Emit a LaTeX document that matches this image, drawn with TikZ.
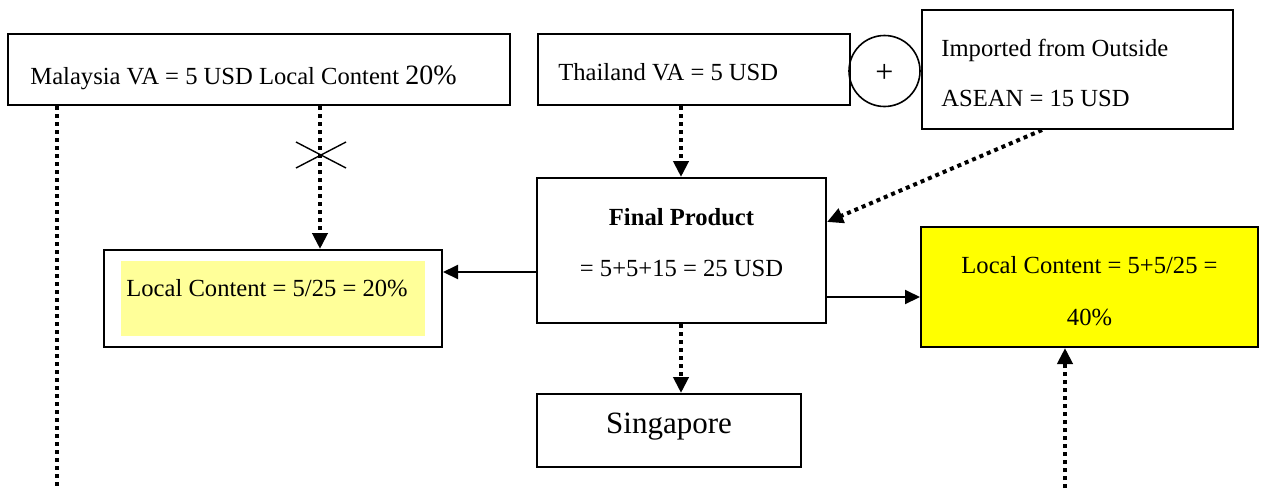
\documentclass[tikz,border=0pt]{standalone}
\usepackage{fontspec}
\setmainfont{Liberation Serif}
\usetikzlibrary{arrows.meta,calc}
\definecolor{paleyel}{HTML}{FFFF99}
\definecolor{brightyel}{HTML}{FFFF00}
\tikzset{
  boxnode/.style={draw, line width=1pt, rectangle, inner sep=0pt},
  txt/.style={inner sep=0pt, font=\fontsize{12.3}{14}\selectfont},
  dotline/.style={line width=2pt, dash pattern=on 2pt off 2pt},
  dotarrow/.style={dotline, -{Triangle[length=8pt,width=7.5pt]}},
  solidarrow/.style={line width=1pt, -{Triangle[length=7.5pt,width=7pt]}},
}
\begin{document}
\begin{tikzpicture}[x=0.5pt, y=-0.5pt]
\useasboundingbox (0,0) rectangle (1264,488);
% boxes
\node[boxnode, minimum width=251pt, minimum height=35.5pt] (mal) at (259,69.5) {};
\node[txt, anchor=west] (maltxt) at (30,78) {Malaysia VA = 5 USD Local Content {\fontsize{14}{16}\selectfont 20\%}};
\node[boxnode, minimum width=156pt, minimum height=35.5pt] (tha) at (694,69.5) {};
\node[txt, anchor=west] (thatxt) at (558,72) {Thailand VA = 5 USD};
\node[draw, line width=0.8pt, circle, minimum size=35.5pt, inner sep=0pt] (plus) at (884.5,71) {};
\node[txt, font=\fontsize{16}{18}\selectfont] (plustxt) at (884.5,73) {+};
\node[boxnode, minimum width=155.5pt, minimum height=59.5pt] (imp) at (1077.5,69.5) {};
\node[txt, anchor=west] (imptxt1) at (941,50) {Imported from Outside};
\node[txt, anchor=west] (imptxt2) at (941,98) {ASEAN = 15 USD};
\node[boxnode, minimum width=144.5pt, minimum height=72.5pt] (fin) at (681.5,250.5) {};
\node[txt, font=\fontsize{12.3}{14}\selectfont\bfseries] (fintxt1) at (681.5,217) {Final Product};
\node[txt] (fintxt2) at (681.5,268) {= 5+5+15 = 25 USD};
\node[boxnode, minimum width=169pt, minimum height=48.5pt] (lcl) at (273,298.5) {};
\node[fill=paleyel, minimum width=152pt, minimum height=37.5pt, inner sep=0pt] (lclhl) at (273,298.5) {};
\node[txt, anchor=west] (lcltxt) at (126,288) {Local Content = 5/25 = 20\%};
\node[boxnode, fill=brightyel, minimum width=168.5pt, minimum height=60pt] (lcr) at (1089.5,287) {};
\node[txt] (lcrtxt1) at (1089.5,265) {Local Content = 5+5/25 =};
\node[txt] (lcrtxt2) at (1089.5,317) {40\%};
\node[boxnode, minimum width=132pt, minimum height=36.5pt] (sing) at (669,430.5) {};
\node[txt, font=\fontsize{15.5}{18}\selectfont] (singtxt) at (669,427) {Singapore};
% helper coordinates
\coordinate (xa) at (320,0);
\coordinate (xb) at (681,0);
\coordinate (xc) at (1042,0);
\coordinate (yc) at (0,222);
\coordinate (yd) at (0,272);
\coordinate (ye) at (0,297);
\coordinate (xf) at (57,0);
\coordinate (xg) at (1065,0);
\coordinate (bl) at (57,488);
\coordinate (br) at (1065,488);
\coordinate (xmark) at (321,155);
% connectors
\draw[dotarrow] (mal.south -| xa) -- (lcl.north -| xa);
\draw[line width=0.7pt] ($(xmark)+(-25,-13)$) -- ($(xmark)+(25,13)$);
\draw[line width=0.7pt] ($(xmark)+(-25,13)$) -- ($(xmark)+(25,-13)$);
\draw[dotarrow] (tha.south -| xb) -- (fin.north -| xb);
\draw[dotarrow] (imp.south -| xc) -- (fin.east |- yc);
\draw[solidarrow] (fin.west |- yd) -- (lcl.east |- yd);
\draw[solidarrow] (fin.east |- ye) -- (lcr.west |- ye);
\draw[dotarrow] (fin.south -| xb) -- (sing.north -| xb);
\draw[dotline] (mal.south -| xf) -- (bl);
\draw[dotarrow] (br) -- (lcr.south -| xg);
\end{tikzpicture}
\end{document}
